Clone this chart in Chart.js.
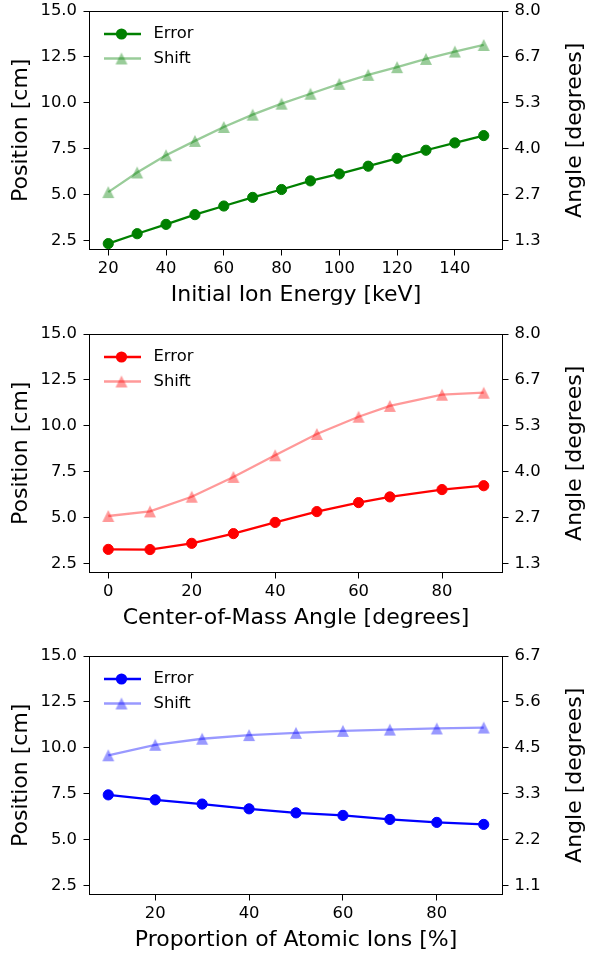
<!doctype html>
<html lang="en">
<head>
<meta charset="utf-8">
<title>Position error and shift</title>
<script src="https://cdn.jsdelivr.net/npm/chart.js/dist/chart.umd.min.js"></script>
<style>
  * { margin: 0; padding: 0; }
  body { width: 590px; height: 954px; background: #fff; position: relative; overflow: hidden; }
  canvas { position: absolute; left: 0; }
</style>
</head>
<body>
<canvas id="energyChart" width="590" height="327" style="top:-6px"></canvas>
<canvas id="angleChart" width="590" height="327" style="top:317px"></canvas>
<canvas id="atomicChart" width="590" height="327" style="top:639px"></canvas>
<script>
// shared position axis
var positionTicks = [2.5, 5.0, 7.5, 10.0, 12.5, 15.0];

// top: initial ion energy scan
var energyKeV = [20, 30, 40, 50, 60, 70, 80, 90, 100, 110, 120, 130, 140, 150];
var energyError = [2.32, 2.86, 3.37, 3.90, 4.37, 4.84, 5.27, 5.74, 6.12, 6.54, 6.97, 7.41, 7.81, 8.21];
var energyShift = [5.13, 6.20, 7.14, 7.92, 8.68, 9.35, 9.95, 10.49, 11.03, 11.52, 11.94, 12.39, 12.79, 13.15];
var energyTicks = [20, 40, 60, 80, 100, 120, 140];
var energyAngleLabels = ['1.3', '2.7', '4.0', '5.3', '6.7', '8.0'];

// middle: center-of-mass angle scan
var comAngle = [0, 10, 20, 30, 40, 50, 60, 67.5, 80, 90];
var comError = [3.26, 3.25, 3.59, 4.12, 4.73, 5.32, 5.81, 6.12, 6.52, 6.73];
var comShift = [5.08, 5.33, 6.13, 7.21, 8.39, 9.55, 10.49, 11.08, 11.69, 11.80];
var comTicks = [0, 20, 40, 60, 80];
var comAngleLabels = ['1.3', '2.7', '4.0', '5.3', '6.7', '8.0'];

// bottom: atomic ion fraction scan
var atomicPct = [10, 20, 30, 40, 50, 60, 70, 80, 90];
var atomicError = [7.43, 7.16, 6.93, 6.67, 6.45, 6.31, 6.09, 5.93, 5.82];
var atomicShift = [9.59, 10.16, 10.49, 10.69, 10.81, 10.92, 10.99, 11.05, 11.10];
var atomicTicks = [20, 40, 60, 80];
var atomicAngleLabels = ['1.1', '2.2', '3.3', '4.5', '5.6', '6.7'];

var FONT = 'DejaVu Sans';
var TICK_SIZE = 16.4;
var TITLE_SIZE = 22;

function pairs(xs, ys) {
    return xs.map(function (x, i) { return { x: x, y: ys[i] }; });
}

// matplotlib-style '^' marker as an image
function triangleMarker(color) {
    var c = document.createElement('canvas');
    c.width = 14; c.height = 14;
    var g = c.getContext('2d');
    g.fillStyle = color;
    g.beginPath();
    g.moveTo(7, 1);
    g.lineTo(1, 13);
    g.lineTo(13, 13);
    g.closePath();
    g.fill();
    return c;
}

// top spine, right-hand title and the legend inside the axes
var framePlugin = {
    id: 'frame',
    afterDraw: function (chart) {
        var ctx = chart.ctx, a = chart.chartArea;
        ctx.save();
        ctx.strokeStyle = '#000';
        ctx.lineWidth = 1;
        ctx.beginPath();
        ctx.moveTo(a.left, a.top + 0.5);
        ctx.lineTo(a.right, a.top + 0.5);
        ctx.stroke();

        ctx.fillStyle = '#000';
        ctx.font = TITLE_SIZE + 'px "' + FONT + '"';
        ctx.textAlign = 'center';
        ctx.textBaseline = 'middle';
        ctx.translate(575, (a.top + a.bottom) / 2);
        ctx.rotate(-Math.PI / 2);
        ctx.fillText('Angle [degrees]', 0, 0);
        ctx.restore();

        chart.data.datasets.forEach(function (ds, i) {
            var y = a.top + 23 + i * 24.5;
            ctx.save();
            ctx.strokeStyle = ds.borderColor;
            ctx.lineWidth = ds.borderWidth;
            ctx.beginPath();
            ctx.moveTo(a.left + 14.5, y);
            ctx.lineTo(a.left + 51.5, y);
            ctx.stroke();
            var mx = a.left + 32;
            if (ds.pointStyle instanceof HTMLCanvasElement) {
                ctx.drawImage(ds.pointStyle, mx - 7, y - 7);
            } else {
                ctx.fillStyle = ds.backgroundColor;
                ctx.beginPath();
                ctx.arc(mx, y, ds.pointRadius + 0.5, 0, Math.PI * 2);
                ctx.fill();
            }
            ctx.fillStyle = '#000';
            ctx.font = TICK_SIZE + 'px "' + FONT + '"';
            ctx.textAlign = 'left';
            ctx.textBaseline = 'middle';
            ctx.fillText(ds.label, a.left + 64, y);
            ctx.restore();
        });
    }
};

function setTicks(values) {
    return function (scale) {
        scale.ticks = values.map(function (v) { return { value: v }; });
    };
}

function axisGrid() {
    return { display: true, drawOnChartArea: false, drawTicks: true, tickLength: 6, tickWidth: 1, tickColor: '#000', color: '#000' };
}

function makePanel(id, xs, err, shift, color, fade, xTicks, xMin, xMax, xTitle, angleLabels) {
    return new Chart(document.getElementById(id), {
        type: 'line',
        data: {
            datasets: [{
                label: 'Error',
                data: pairs(xs, err),
                borderColor: color,
                backgroundColor: color,
                borderWidth: 2.3,
                pointStyle: 'circle',
                pointRadius: 5.1,
                pointBorderWidth: 1,
                tension: 0
            }, {
                label: 'Shift',
                data: pairs(xs, shift),
                borderColor: fade,
                backgroundColor: fade,
                borderWidth: 2.3,
                pointStyle: triangleMarker(fade),
                pointRadius: 6,
                tension: 0
            }]
        },
        options: {
            responsive: false,
            animation: false,
            devicePixelRatio: 1,
            layout: { padding: { top: 17, left: 0, right: 0, bottom: 0 } },
            plugins: { legend: { display: false }, tooltip: { enabled: false } },
            scales: {
                x: {
                    type: 'linear',
                    min: xMin,
                    max: xMax,
                    afterBuildTicks: setTicks(xTicks),
                    afterFit: function (s) { s.height = 71.5; },
                    grid: axisGrid(),
                    border: { display: true, color: '#000', width: 1 },
                    ticks: {
                        color: '#000', font: { family: FONT, size: TICK_SIZE }, padding: 3,
                        maxRotation: 0, autoSkip: false,
                        callback: function (v) { return String(v); }
                    },
                    title: {
                        display: true, text: xTitle, color: '#000',
                        font: { family: FONT, size: TITLE_SIZE }, padding: { top: 0, bottom: 12.8 }
                    }
                },
                y: {
                    position: 'left',
                    min: 2, max: 15,
                    afterBuildTicks: setTicks(positionTicks),
                    afterFit: function (s) { s.width = 89.5; },
                    grid: axisGrid(),
                    border: { display: true, color: '#000', width: 1 },
                    ticks: {
                        color: '#000', font: { family: FONT, size: TICK_SIZE }, padding: 6.5,
                        callback: function (v) { return v.toFixed(1); }
                    },
                    title: {
                        display: true, text: 'Position [cm]', color: '#000',
                        font: { family: FONT, size: TITLE_SIZE }, padding: { top: 8, bottom: 0 }
                    }
                },
                y2: {
                    position: 'right',
                    min: 2, max: 15,
                    afterBuildTicks: setTicks(positionTicks),
                    afterFit: function (s) { s.width = 87.5; },
                    grid: axisGrid(),
                    border: { display: true, color: '#000', width: 1 },
                    ticks: {
                        color: '#000', font: { family: FONT, size: TICK_SIZE }, padding: 6,
                        callback: function (v, i) { return angleLabels[i]; }
                    }
                }
            }
        },
        plugins: [framePlugin]
    });
}

makePanel('energyChart', energyKeV, energyError, energyShift, '#008000', 'rgba(0,128,0,0.4)',
    energyTicks, 13.5, 156.5, 'Initial Ion Energy [keV]', energyAngleLabels);
makePanel('angleChart', comAngle, comError, comShift, '#ff0000', 'rgba(255,0,0,0.4)',
    comTicks, -4.5, 94.5, 'Center-of-Mass Angle [degrees]', comAngleLabels);
makePanel('atomicChart', atomicPct, atomicError, atomicShift, '#0000ff', 'rgba(0,0,255,0.4)',
    atomicTicks, 6, 94, 'Proportion of Atomic Ions [%]', atomicAngleLabels);
</script>
</body>
</html>
